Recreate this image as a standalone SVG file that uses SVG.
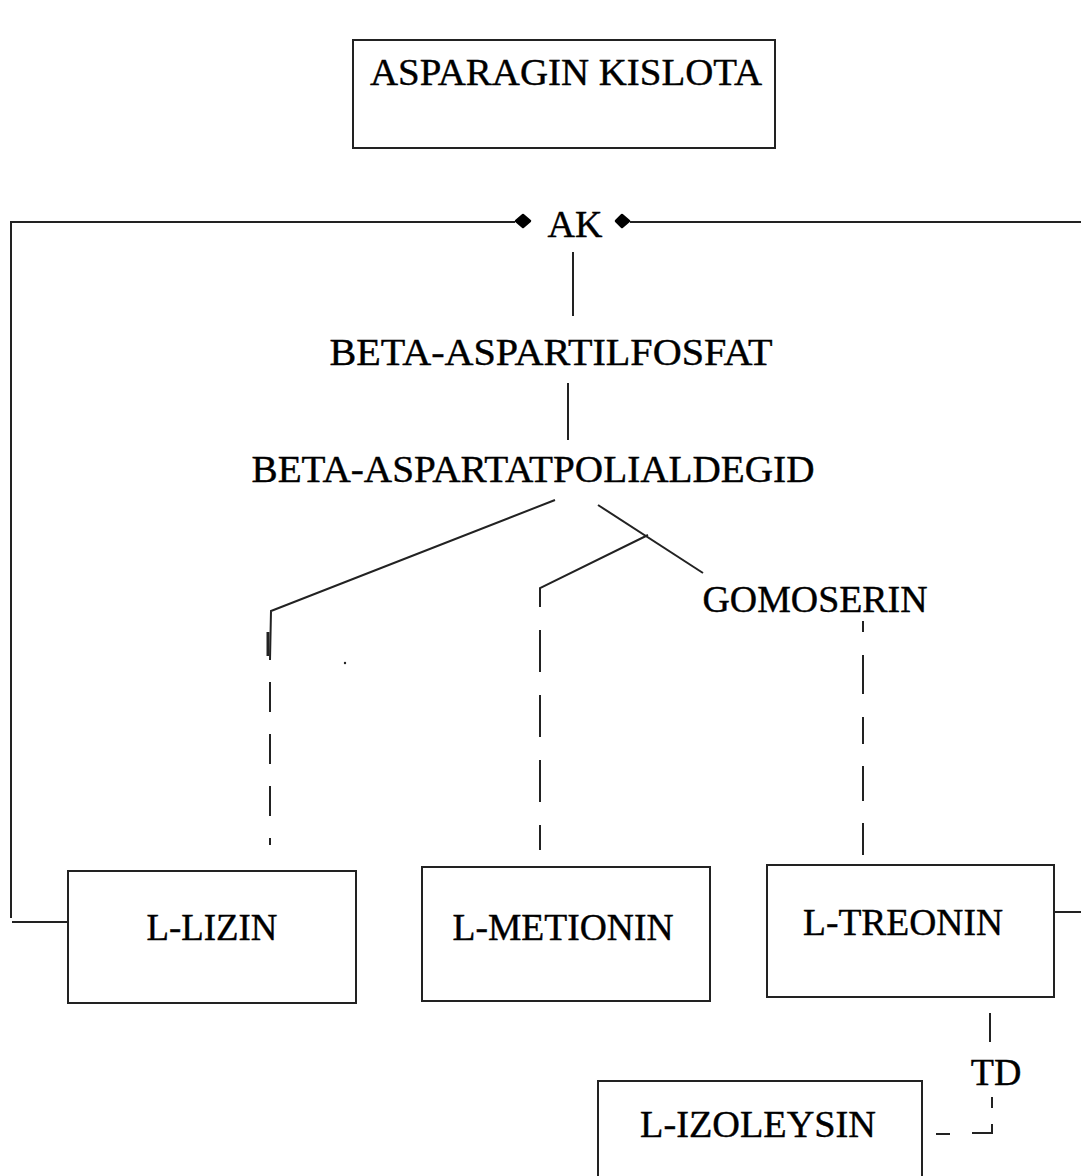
<svg xmlns="http://www.w3.org/2000/svg" width="1081" height="1176" viewBox="0 0 1081 1176">
<style>
.box{fill:#fff;stroke:#222;stroke-width:2}
.ln{fill:none;stroke:#222;stroke-width:2}
.ds{fill:none;stroke:#222;stroke-width:2}
.dm{fill:#000;stroke:#000;stroke-width:2.5;stroke-linejoin:round}
.t{font-family:'Liberation Serif','Times New Roman',serif;font-size:38px;fill:#000;text-anchor:middle;stroke:#000;stroke-width:0.4}
</style>
<rect width="1081" height="1176" fill="#fff"/>
<g id="connectors">
<polyline class="ln" points="515,222 11,222 11,918"/>
<line class="ln" x1="12" y1="922" x2="68" y2="922"/>
<line class="ln" x1="630" y1="222" x2="1081" y2="222"/>
<path class="dm" d="M516,221 L523,215 L530,221 L523,227 Z"/>
<path class="dm" d="M616,221 L622,215 L629,221 L622,227 Z"/>
<line class="ln" x1="1054" y1="912" x2="1081" y2="912"/>
<line class="ln" x1="573" y1="252" x2="573" y2="316"/>
<line class="ln" x1="568" y1="383" x2="568" y2="440"/>
<polyline class="ln" points="555,500 271,611 270,660"/>
<line x1="268" y1="632" x2="268" y2="656" stroke="#222" stroke-width="3"/>
<circle cx="345" cy="663" r="1.2" fill="#222"/>
<line class="ds" x1="270" y1="682" x2="270" y2="845" stroke-dasharray="30 22"/>
<line class="ln" x1="598" y1="505" x2="703" y2="573"/>
<polyline class="ln" points="648,535 540,588 540,607"/>
<line class="ds" x1="540" y1="630" x2="540" y2="850" stroke-dasharray="42 23"/>
<line class="ds" x1="863" y1="621" x2="863" y2="855" stroke-dasharray="11 23 39 23 27 22 35 22 32 0"/>
<line class="ln" x1="990" y1="1013" x2="990" y2="1042"/>
<polyline class="ln" points="992,1097 992,1108"/>
<polyline class="ln" points="992,1124 992,1133 972,1133"/>
<line class="ln" x1="936" y1="1134" x2="950" y2="1134"/>
</g>
<g id="asparagin">
<rect class="box" x="353" y="40" width="422" height="108"/>
<text class="t" x="566" y="85" textLength="392" lengthAdjust="spacingAndGlyphs">ASPARAGIN KISLOTA</text>
</g>
<g id="ak"><text class="t" x="575" y="237">AK</text></g>
<g id="beta-aspartilfosfat"><text class="t" x="551" y="365" textLength="443" lengthAdjust="spacingAndGlyphs">BETA-ASPARTILFOSFAT</text></g>
<g id="beta-aspartatpolialdegid"><text class="t" x="533" y="482" textLength="563" lengthAdjust="spacingAndGlyphs">BETA-ASPARTATPOLIALDEGID</text></g>
<g id="gomoserin"><text class="t" x="815" y="612" textLength="225" lengthAdjust="spacingAndGlyphs">GOMOSERIN</text></g>
<g id="l-lizin">
<rect class="box" x="68" y="871" width="288" height="132"/>
<text class="t" x="212" y="940" textLength="131" lengthAdjust="spacingAndGlyphs">L-LIZIN</text>
</g>
<g id="l-metionin">
<rect class="box" x="422" y="867" width="288" height="134"/>
<text class="t" x="563" y="940" textLength="221" lengthAdjust="spacingAndGlyphs">L-METIONIN</text>
</g>
<g id="l-treonin">
<rect class="box" x="767" y="865" width="287" height="132"/>
<text class="t" x="903" y="935" textLength="200" lengthAdjust="spacingAndGlyphs">L-TREONIN</text>
</g>
<g id="td"><text class="t" x="996" y="1085">TD</text></g>
<g id="l-izoleysin">
<rect class="box" x="598" y="1081" width="324" height="110"/>
<text class="t" x="758" y="1137" textLength="236" lengthAdjust="spacingAndGlyphs">L-IZOLEYSIN</text>
</g>
</svg>
